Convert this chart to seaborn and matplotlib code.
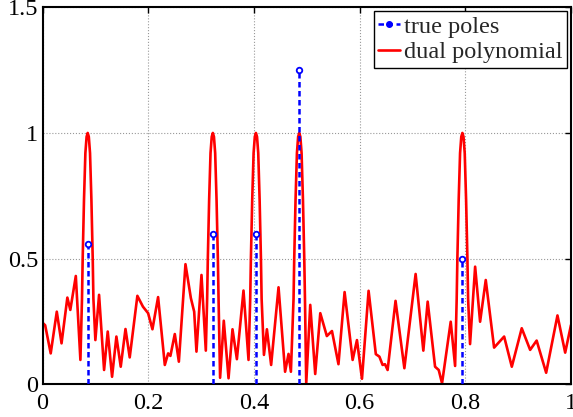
import numpy as np
import pandas as pd
import matplotlib
matplotlib.use("Agg")
import matplotlib.pyplot as plt
from matplotlib.lines import Line2D
import seaborn as sns

#%% Data
pole_x = [0.0855, 0.3223, 0.4038, 0.4858, 0.7945]
pole_amp = [0.56, 0.60, 0.60, 1.25, 0.50]

dual_x = [0.000, 0.005, 0.0155, 0.027, 0.036, 0.047, 0.0526, 0.063, 0.0717,
          0.0747, 0.076, 0.0785, 0.0811, 0.0834, 0.0855, 0.0876, 0.0899, 0.0925, 0.095, 0.0963,
          0.100, 0.107, 0.1165, 0.1234, 0.1316, 0.1398, 0.148, 0.157, 0.165,
          0.1795, 0.190, 0.1998, 0.208, 0.2187, 0.2314, 0.2377, 0.242, 0.2503,
          0.258, 0.2705, 0.2807, 0.287, 0.2913, 0.3008, 0.309,
          0.3115, 0.3128, 0.3153, 0.3179, 0.3202, 0.3223, 0.3244, 0.3267, 0.3293, 0.3318, 0.3331,
          0.336, 0.343, 0.352, 0.3595, 0.3678, 0.3803, 0.3898,
          0.393, 0.3943, 0.3968, 0.3994, 0.4017, 0.4038, 0.4059, 0.4082, 0.4108, 0.4133, 0.4146,
          0.419, 0.4246, 0.4326, 0.4466, 0.459, 0.4655, 0.470,
          0.475, 0.4763, 0.4788, 0.4814, 0.4837, 0.4858, 0.4879, 0.4902, 0.4928, 0.4953, 0.4966,
          0.499, 0.5066, 0.516, 0.5256, 0.538, 0.5477, 0.560, 0.5716, 0.5868,
          0.595, 0.6045, 0.617, 0.6307, 0.6375, 0.6435, 0.648, 0.653, 0.668,
          0.6847, 0.706, 0.7206, 0.7288, 0.7428, 0.7497, 0.756, 0.7724, 0.7807,
          0.7837, 0.785, 0.7875, 0.7901, 0.7924, 0.7945, 0.7966, 0.7989, 0.8015, 0.804, 0.8053,
          0.809, 0.8186, 0.828, 0.8387, 0.8545, 0.8735, 0.888, 0.9068, 0.9227,
          0.935, 0.953, 0.9744, 0.989, 1.000]
dual_y = [0.245, 0.235, 0.123, 0.289, 0.163, 0.345, 0.296, 0.431, 0.097,
          0.34, 0.50, 0.735, 0.920, 0.985, 1.0, 0.985, 0.920, 0.735, 0.50, 0.34,
          0.176, 0.356, 0.057, 0.210, 0.030, 0.190, 0.070, 0.220, 0.107,
          0.352, 0.309, 0.283, 0.219, 0.347, 0.077, 0.123, 0.113, 0.200,
          0.090, 0.478, 0.343, 0.289, 0.130, 0.435, 0.134,
          0.34, 0.50, 0.735, 0.920, 0.985, 1.0, 0.985, 0.920, 0.735, 0.50, 0.34,
          0.026, 0.253, 0.024, 0.219, 0.100, 0.373, 0.097,
          0.34, 0.50, 0.735, 0.920, 0.985, 1.0, 0.985, 0.920, 0.735, 0.50, 0.34,
          0.117, 0.219, 0.077, 0.386, 0.050, 0.121, 0.050,
          0.34, 0.50, 0.735, 0.920, 0.985, 1.0, 0.985, 0.920, 0.735, 0.50, 0.34,
          0.004, 0.316, 0.041, 0.283, 0.192, 0.212, 0.080, 0.367, 0.097,
          0.176, 0.022, 0.372, 0.120, 0.110, 0.077, 0.080, 0.057, 0.332,
          0.064, 0.439, 0.134, 0.329, 0.070, 0.057, 0.004, 0.249, 0.073,
          0.34, 0.50, 0.735, 0.920, 0.985, 1.0, 0.985, 0.920, 0.735, 0.50, 0.34,
          0.160, 0.468, 0.249, 0.415, 0.146, 0.190, 0.070, 0.223, 0.137,
          0.174, 0.046, 0.274, 0.126, 0.236]

xticks = [0, 0.2, 0.4, 0.6, 0.8, 1]
xtick_labels = ["0", "0.2", "0.4", "0.6", "0.8", "1"]
yticks = [0, 0.5, 1, 1.5]
ytick_labels = ["0", "0.5", "1", "1.5"]

df = pd.DataFrame({"x": dual_x, "y": dual_y})

#%% Plot
sns.set_style("white")
plt.rcParams["font.family"] = "serif"
plt.rcParams["font.serif"] = ["Liberation Serif", "DejaVu Serif"]
plt.rcParams["font.size"] = 17.5

fig, ax = plt.subplots(figsize=(5.73, 4.17), dpi=100)
fig.subplots_adjust(left=0.0742, right=0.9965, bottom=0.0784, top=0.9825)

# true poles as dashed stems with open circles
ax.vlines(pole_x, 0, pole_amp, colors="blue", linestyles=(0, (2.2, 1.4)), lw=1.8, zorder=3)
ax.plot(pole_x, pole_amp, "o", color="blue", ms=4, mfc="white", mew=1.3, zorder=4)

sns.lineplot(data=df, x="x", y="y", color="red", lw=1.9, sort=False, ax=ax, zorder=2)

ax.set_xlim(0, 1)
ax.set_ylim(0, 1.5)
ax.set_xticks(xticks)
ax.set_xticklabels(xtick_labels)
ax.set_yticks(yticks)
ax.set_yticklabels(ytick_labels)
ax.set_xlabel("")
ax.set_ylabel("")
ax.grid(True, color="#999999", linestyle=":", lw=0.8)
ax.tick_params(direction="in", length=4, width=1, top=True, right=True,
               labelsize=17.5, colors="black")
ax.tick_params(axis="x", pad=6)
ax.tick_params(axis="y", pad=3)
for s in ax.spines.values():
    s.set_visible(True)
    s.set_color("black")
    s.set_linewidth(1.5)

handles = [
    Line2D([], [], color="blue", ls=(0, (2.2, 1.4)), lw=1.8, marker="o", ms=4,
           mfc="blue", markevery=[1]),
    Line2D([], [], color="red", lw=1.9),
]
leg = ax.legend(handles, ["true poles", "dual polynomial"], loc="upper right",
                fancybox=False, framealpha=1, edgecolor="black", fontsize=17.5,
                handlelength=0.9, handletextpad=0.15, borderpad=0.2,
                labelspacing=0.15, borderaxespad=0.15)
leg.get_frame().set_linewidth(1.0)

fig.savefig("out.png", dpi=100)
